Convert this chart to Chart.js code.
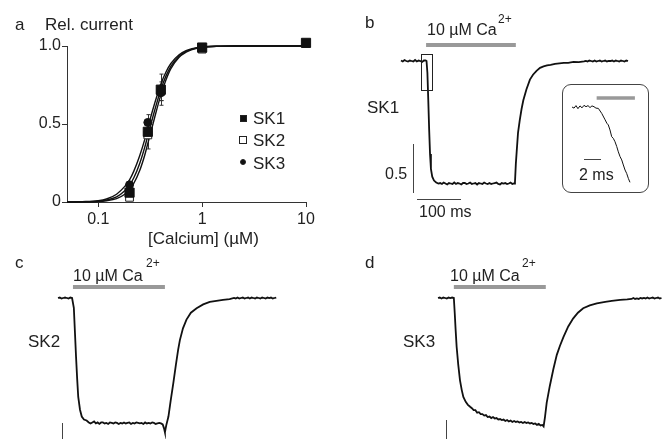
<!DOCTYPE html>
<html>
<head>
<meta charset="utf-8">
<script src="https://cdn.jsdelivr.net/npm/chart.js@4.4.0/dist/chart.umd.min.js"></script>
<style>
body { margin: 0; background: #fff; }
#fig { position: relative; width: 663px; height: 439px; overflow: hidden; font-family: "Liberation Sans", Arial, sans-serif; color: #222; }
#fig canvas { position: absolute; }
.t { position: absolute; white-space: nowrap; font-size: 17px; line-height: 17px; }
.mk { position: absolute; box-sizing: border-box; }
#insetBox { position: absolute; left: 562px; top: 84px; width: 87px; height: 109px; box-sizing: border-box; border: 1px solid #444; border-radius: 9px; }
</style>
</head>
<body>
<div id="fig">
  <canvas id="chartA" width="330" height="230" style="left:0;top:0"></canvas>
  <canvas id="chartB" width="333" height="230" style="left:330px;top:0"></canvas>
  <div id="insetBox"></div>
  <canvas id="chartInset" width="87" height="109" style="left:562px;top:84px"></canvas>
  <canvas id="chartC" width="330" height="199" style="left:0;top:240px"></canvas>
  <canvas id="chartD" width="333" height="199" style="left:330px;top:240px"></canvas>
</div>
<script>
// ---- panel a: concentration-response ----
var concSK1 = [0.2, 0.3, 0.4, 1, 10]
var relSK1 = [0.06, 0.45, 0.72, 0.99, 1.02]
var errSK1 = [0.01, 0.03, 0.1, 0.01, 0.01]
var concSK2 = [0.2, 0.3, 0.4, 1]
var relSK2 = [0.03, 0.43, 0.71, 0.98]
var errSK2 = [0.02, 0.09, 0.06, 0.01]
var concSK3 = [0.2, 0.3, 0.4, 1]
var relSK3 = [0.11, 0.51, 0.70, 0.99]
var errSK3 = [0.02, 0.05, 0.05, 0.01]

var fitConc = [0.05, 0.07, 0.1, 0.12, 0.15, 0.18, 0.2, 0.22, 0.25, 0.28, 0.3, 0.32, 0.35, 0.4, 0.45, 0.5, 0.6, 0.7, 0.8, 1, 1.5, 2, 5, 10]
var fitSK1 = [0, 0.001, 0.005, 0.012, 0.033, 0.072, 0.108, 0.155, 0.245, 0.35, 0.425, 0.495, 0.59, 0.72, 0.81, 0.87, 0.935, 0.965, 0.98, 0.993, 0.999, 1, 1, 1]
var fitSK2 = [0, 0.001, 0.003, 0.008, 0.022, 0.05, 0.08, 0.12, 0.2, 0.3, 0.375, 0.445, 0.545, 0.685, 0.785, 0.855, 0.928, 0.96, 0.977, 0.992, 0.999, 1, 1, 1]
var fitSK3 = [0, 0.002, 0.008, 0.019, 0.05, 0.1, 0.142, 0.198, 0.295, 0.4, 0.475, 0.545, 0.635, 0.755, 0.835, 0.888, 0.944, 0.97, 0.983, 0.994, 0.999, 1, 1, 1]
var xTicksA = [0.1, 1, 10]
var yTicksA = [0, 0.5, 1]

// ---- panel b: SK1 trace (ms, nA) ----
var timeB = [0, 4, 8, 12, 16, 20, 24, 28, 32, 36, 40, 44, 48, 52, 56,
  58, 60, 62, 64, 66, 68, 71, 75, 80, 85,
  89, 93, 97, 101, 105, 109, 113, 117, 121, 125, 129, 133, 137, 141, 145, 149, 153, 157, 161, 165, 169,
  173, 177, 181, 185, 189, 193, 197, 201, 205, 209, 213, 217, 221, 225, 229, 233, 237, 241, 245, 249, 253,
  257,
  259, 261, 263, 266, 270, 274, 278, 285, 293, 300, 308, 316, 324, 332, 340, 350, 360, 370, 380, 392, 404, 416,
  420, 424, 428, 432, 436, 440, 444, 448, 452, 456, 460, 464, 468, 472, 476, 480, 484, 488, 492, 496, 500, 504, 508, 512, 516]
var currB = [0.005, -0.005, 0.01, 0, -0.005, 0.005, 0, -0.005, 0.01, -0.005, 0.005, 0, -0.01, 0.005, 0.005,
  0, -0.12, -0.40, -0.70, -0.95, -1.10, -1.18, -1.22, -1.24, -1.25,
  -1.245, -1.255, -1.24, -1.25, -1.26, -1.245, -1.25, -1.255, -1.24, -1.255, -1.245, -1.25, -1.26, -1.245, -1.245, -1.255, -1.25, -1.24, -1.255, -1.25, -1.245,
  -1.26, -1.245, -1.25, -1.255, -1.24, -1.25, -1.255, -1.245, -1.255, -1.25, -1.245, -1.24, -1.255, -1.26, -1.245, -1.25, -1.245, -1.255, -1.25, -1.24, -1.255,
  -1.25,
  -1.24, -1.05, -0.92, -0.73, -0.60, -0.49, -0.40, -0.29, -0.19, -0.14, -0.10, -0.07, -0.055, -0.045, -0.04, -0.03, -0.025, -0.02, -0.02, -0.01, -0.012, -0.005,
  0, -0.005, 0.005, 0, -0.005, 0.005, -0.005, 0, 0.005, -0.005, 0, 0.005, -0.005, 0, 0, 0.005, -0.005, 0.005, 0, -0.005, 0.005, 0, -0.005, 0.005, 0]
var caB = [57, 261]

// inset of panel b (ms, nA)
var timeInset = [0, 0.24, 0.47, 0.7, 0.94, 1.18, 1.41, 1.65, 1.88, 2.12, 2.35, 2.59, 2.82, 3.1, 3.5, 3.9, 4.1, 4.27, 4.47, 4.67, 4.86, 5.06, 5.26, 5.45, 5.65, 5.85, 6.04, 6.24, 6.43, 6.63, 6.82]
var currInset = [0, -0.004, 0.005, -0.006, 0.004, -0.003, 0.006, 0.001, 0.005, -0.002, 0.004, 0.001, -0.004, -0.005, -0.023, -0.046, -0.058, -0.064, -0.082, -0.106, -0.112, -0.124, -0.141, -0.16, -0.177, -0.189, -0.207, -0.225, -0.237, -0.255, -0.269]
var caInset = [2.9, 7.4]

// ---- panel c: SK2 trace ----
var timeC = [0, 4, 8, 12, 16, 20, 24, 28, 32,
  34, 36, 38.5, 41, 43.5, 46, 50, 54, 59, 65,
  70, 74, 78, 82, 86, 90, 94, 98, 102, 106, 110, 114, 118, 122, 126, 130, 134, 138, 142, 146, 150, 154,
  158, 162, 166, 170, 174, 178, 182, 186, 190, 194, 198, 202, 206, 210, 214, 218, 222, 226, 230, 234, 238,
  241, 243, 246, 251, 256, 262, 268, 273, 277, 284, 292, 302, 315, 330, 345, 360, 375, 390,
  400, 404, 408, 412, 416, 420, 424, 428, 432, 436, 440, 444, 448, 452, 456, 460, 464, 468, 472, 476, 480, 484, 488, 492, 496]
var currC = [0, 0.005, -0.005, 0, 0.005, 0, -0.005, 0.005, 0,
  0, -0.1, -0.35, -0.6, -0.82, -1.01, -1.14, -1.21, -1.24, -1.25,
  -1.27, -1.28, -1.27, -1.26, -1.28, -1.27, -1.285, -1.27, -1.27, -1.28, -1.275, -1.285, -1.27, -1.275, -1.28, -1.27, -1.275, -1.285, -1.275, -1.28, -1.27, -1.28,
  -1.275, -1.27, -1.285, -1.275, -1.28, -1.27, -1.275, -1.28, -1.275, -1.285, -1.27, -1.28, -1.275, -1.28, -1.27, -1.275, -1.285, -1.28, -1.275, -1.28, -1.29,
  -1.33, -1.37, -1.30, -1.21, -1.05, -0.87, -0.68, -0.53, -0.43, -0.31, -0.22, -0.15, -0.105, -0.065, -0.04, -0.03, -0.02, -0.012,
  0, -0.005, 0.005, -0.005, 0, 0.005, -0.005, 0, 0.005, -0.005, 0.005, 0, -0.005, 0.005, 0, -0.005, 0.005, 0, -0.005, 0.005, 0, 0.005, -0.005, 0, 0.005]
var caC = [34, 243]

// ---- panel d: SK3 trace ----
var timeD = [0, 4, 8, 12, 16, 20, 24, 28, 32, 36,
  38, 40, 42.4, 46, 50, 54, 57.6, 63, 68, 73,
  77, 81, 85, 89, 93, 97, 101, 105, 109, 113, 117, 121, 125, 129, 133, 137, 141, 145, 149, 153, 157,
  161, 165, 169, 173, 177, 181, 185, 189, 193, 197, 201, 205, 209, 213, 217, 221, 225, 229, 233, 237,
  240,
  243, 247, 254, 262, 270, 277, 285, 296, 307, 318, 330, 345, 361, 380, 395, 414, 430,
  440, 444, 448, 452, 456, 460, 464, 468, 472, 476, 480, 484, 488, 492, 496, 500, 504, 508]
var currD = [0, 0.005, -0.005, 0.005, 0, -0.005, 0.005, 0, 0.005, 0,
  -0.15, -0.32, -0.5, -0.68, -0.84, -0.94, -1.01, -1.06, -1.09, -1.11,
  -1.125, -1.145, -1.145, -1.17, -1.165, -1.185, -1.185, -1.2, -1.195, -1.215, -1.21, -1.225, -1.215, -1.23, -1.225, -1.24, -1.235, -1.245, -1.24, -1.255, -1.245,
  -1.26, -1.25, -1.265, -1.255, -1.265, -1.26, -1.27, -1.265, -1.275, -1.265, -1.275, -1.27, -1.28, -1.275, -1.285, -1.28, -1.295, -1.285, -1.3, -1.295,
  -1.31,
  -1.22, -1.07, -0.90, -0.73, -0.58, -0.49, -0.40, -0.29, -0.21, -0.15, -0.105, -0.075, -0.055, -0.04, -0.03, -0.02, -0.015,
  -0.01, 0, -0.01, -0.005, -0.01, 0, -0.005, 0, -0.005, 0.005, -0.005, 0, 0.005, -0.005, 0, 0.005, -0.005, 0]
var caD = [36, 245]

Chart.defaults.font.family = "'Liberation Sans', Arial, sans-serif"
Chart.defaults.color = '#222'

function pts(xs, ys) {
  return xs.map((x, i) => ({ x: x, y: ys[i] }))
}

// error bars for panel a, drawn under the markers
var errPlugin = {
  id: 'errbars',
  beforeDatasetsDraw(chart) {
    var ctx = chart.ctx, sx = chart.scales.x, sy = chart.scales.y
    var sets = [[concSK1, relSK1, errSK1], [concSK2, relSK2, errSK2], [concSK3, relSK3, errSK3]]
    ctx.save()
    ctx.strokeStyle = '#333'
    ctx.lineWidth = 1
    sets.forEach(s => {
      s[0].forEach((c, i) => {
        var x = Math.round(sx.getPixelForValue(c)) + 0.5
        var y1 = sy.getPixelForValue(s[1][i] - s[2][i]), y2 = sy.getPixelForValue(s[1][i] + s[2][i])
        ctx.beginPath()
        ctx.moveTo(x, y1); ctx.lineTo(x, y2)
        ctx.moveTo(x - 2, y1); ctx.lineTo(x + 2, y1)
        ctx.moveTo(x - 2, y2); ctx.lineTo(x + 2, y2)
        ctx.stroke()
      })
    })
    ctx.restore()
  }
}

new Chart(document.getElementById('chartA'), {
  type: 'scatter',
  data: {
    datasets: [
      { data: pts(fitConc, fitSK1), showLine: true, pointRadius: 0, borderColor: '#111', borderWidth: 1.4, cubicInterpolationMode: 'monotone', order: 10, clip: false },
      { data: pts(fitConc, fitSK2), showLine: true, pointRadius: 0, borderColor: '#111', borderWidth: 1.4, cubicInterpolationMode: 'monotone', order: 11, clip: false },
      { data: pts(fitConc, fitSK3), showLine: true, pointRadius: 0, borderColor: '#111', borderWidth: 1.4, cubicInterpolationMode: 'monotone', order: 12, clip: false },
      { label: 'SK2', data: pts(concSK2, relSK2), pointStyle: 'rect', pointRadius: 5.5, backgroundColor: '#fff', borderColor: '#222', borderWidth: 1, order: 3, clip: false },
      { label: 'SK1', data: pts(concSK1, relSK1), pointStyle: 'rect', pointRadius: 6.5, backgroundColor: '#111', borderColor: '#111', borderWidth: 1, order: 2, clip: false },
      { label: 'SK3', data: pts(concSK3, relSK3), pointStyle: 'circle', pointRadius: 4, backgroundColor: '#111', borderColor: '#111', borderWidth: 1, order: 1, clip: false }
    ]
  },
  options: {
    responsive: false,
    animation: false,
    layout: { padding: { top: 46, right: 24, left: 0, bottom: 0 } },
    plugins: { legend: { display: false }, tooltip: { enabled: false } },
    scales: {
      x: {
        type: 'logarithmic', min: 0.05, max: 10,
        afterBuildTicks: s => { s.ticks = xTicksA.map(v => ({ value: v })) },
        afterFit: s => { s.height = 28 },
        ticks: { font: { size: 16 }, color: '#222', padding: 3, maxRotation: 0, autoSkip: false, callback: v => String(v) },
        grid: { drawOnChartArea: false, drawTicks: true, tickLength: 5, color: '#333' },
        border: { display: true, color: '#333', width: 1 }
      },
      y: {
        min: 0, max: 1,
        afterBuildTicks: s => { s.ticks = yTicksA.map(v => ({ value: v })) },
        afterFit: s => { s.width = 67 },
        ticks: { font: { size: 16 }, color: '#222', padding: 1, callback: v => v === 1 ? '1.0' : String(v) },
        grid: { drawOnChartArea: false, drawTicks: true, tickLength: 5, color: '#333' },
        border: { display: true, color: '#333', width: 1 }
      }
    }
  },
  plugins: [errPlugin]
})

// linear mapping from a page-pixel anchor to an axis range for a canvas
function axisRange(p0, v0, ppu, start, size, flip) {
  if (!flip) {
    var min = v0 - (p0 - start) / ppu
    return { min: min, max: min + size / ppu }
  }
  var max = v0 + (p0 - start) / ppu
  return { min: max - size / ppu, max: max }
}

function traceChart(id, rect, xs, ys, map, lw, extra) {
  var xr = axisRange(map.x0, 0, map.px, rect.left, rect.width, false)
  var yr = axisRange(map.y0, 0, map.py, rect.top, rect.height, true)
  return new Chart(document.getElementById(id), {
    type: 'scatter',
    data: { datasets: [{ data: pts(xs, ys), showLine: true, pointRadius: 0, borderColor: '#111', borderWidth: lw, tension: 0, clip: false }] },
    options: {
      responsive: false,
      animation: false,
      layout: { padding: 0 },
      plugins: { legend: { display: false }, tooltip: { enabled: false } },
      scales: {
        x: { type: 'linear', display: false, min: xr.min, max: xr.max },
        y: { type: 'linear', display: false, min: yr.min, max: yr.max }
      }
    },
    plugins: [{
      id: 'extras',
      afterDatasetsDraw(chart) {
        var ctx = chart.ctx
        ctx.save()
        extra(ctx, chart.scales.x, chart.scales.y, rect)
        ctx.restore()
      }
    }]
  })
}

function hline(ctx, x1, x2, y, color, w) {
  ctx.strokeStyle = color; ctx.lineWidth = w
  ctx.beginPath(); ctx.moveTo(x1, y); ctx.lineTo(x2, y); ctx.stroke()
}
function vline(ctx, x, y1, y2, color, w) {
  ctx.strokeStyle = color; ctx.lineWidth = w
  ctx.beginPath(); ctx.moveTo(x, y1); ctx.lineTo(x, y2); ctx.stroke()
}

var grey = '#999'

// panel b
traceChart('chartB', { left: 330, top: 0, width: 333, height: 230 }, timeB, currB,
  { x0: 401, px: 0.44, y0: 61, py: 98 }, 1.8,
  (ctx, sx, sy, r) => {
    hline(ctx, sx.getPixelForValue(caB[0]), sx.getPixelForValue(caB[1]), 45 - r.top, grey, 4)
    // box marking the inset window
    ctx.strokeStyle = '#222'; ctx.lineWidth = 1
    ctx.strokeRect(421.5 - r.left, 54.5 - r.top, 11, 36)
    // scale bars: 0.5 and 100 ms
    var h = Math.abs(sy.getPixelForValue(0) - sy.getPixelForValue(0.5))
    var w = Math.abs(sx.getPixelForValue(100) - sx.getPixelForValue(0))
    vline(ctx, 413.5 - r.left, 144 - r.top, 144 - r.top + h, '#444', 1)
    hline(ctx, 417 - r.left, 417 - r.left + w, 199.5 - r.top, '#444', 1)
  })

// inset
traceChart('chartInset', { left: 562, top: 84, width: 87, height: 109 }, timeInset, currInset,
  { x0: 572, px: 8.5, y0: 107, py: 280 }, 1,
  (ctx, sx, sy, r) => {
    hline(ctx, sx.getPixelForValue(caInset[0]), sx.getPixelForValue(caInset[1]), 98 - r.top, grey, 3.5)
    var w = Math.abs(sx.getPixelForValue(2) - sx.getPixelForValue(0))
    hline(ctx, 584 - r.left, 584 - r.left + w, 159.5 - r.top, '#444', 1)
  })

// panel c
traceChart('chartC', { left: 0, top: 240, width: 330, height: 199 }, timeC, currC,
  { x0: 58, px: 0.44, y0: 298, py: 98 }, 1.8,
  (ctx, sx, sy, r) => {
    hline(ctx, sx.getPixelForValue(caC[0]), sx.getPixelForValue(caC[1]), 287 - r.top, grey, 4)
    vline(ctx, 62.5 - r.left, 423 - r.top, 439 - r.top, '#444', 1)
  })

// panel d
traceChart('chartD', { left: 330, top: 240, width: 333, height: 199 }, timeD, currD,
  { x0: 438, px: 0.44, y0: 298, py: 98 }, 1.8,
  (ctx, sx, sy, r) => {
    hline(ctx, sx.getPixelForValue(caD[0]), sx.getPixelForValue(caD[1]), 287 - r.top, grey, 4)
    vline(ctx, 446.5 - r.left, 420 - r.top, 439 - r.top, '#444', 1)
  })

// text labels, placed by left edge and baseline
var fig = document.getElementById('fig')
function label(text, left, baseline, size) {
  size = size || 17
  var d = document.createElement('div')
  d.className = 't'
  d.textContent = text
  d.style.fontSize = size + 'px'
  d.style.lineHeight = size + 'px'
  d.style.left = left + 'px'
  d.style.top = (baseline - 0.847 * size) + 'px'
  fig.appendChild(d)
}
function marker(cx, cy, size, fill, round) {
  var d = document.createElement('div')
  d.className = 'mk'
  d.style.left = (cx - size / 2) + 'px'
  d.style.top = (cy - size / 2) + 'px'
  d.style.width = size + 'px'
  d.style.height = size + 'px'
  d.style.background = fill
  d.style.border = '1px solid #222'
  if (round) d.style.borderRadius = '50%'
  fig.appendChild(d)
}

label('a', 15, 30)
label('Rel. current', 45, 30)
label('[Calcium] (\u00b5M)', 148, 244)
marker(243, 118, 7, '#111')
marker(243, 140, 8, '#fff')
marker(243, 162, 6, '#111', true)
label('SK1', 253, 124)
label('SK2', 253, 146)
label('SK3', 253, 169)

label('b', 365, 28)
label('10 \u00b5M Ca', 427, 36, 16)
label('2+', 498, 23, 12)
label('SK1', 367, 113)
label('0.5', 385, 180, 16)
label('100 ms', 419, 218, 16)
label('2 ms', 579, 181, 16)

label('c', 15, 268)
label('10 \u00b5M Ca', 73, 282, 16)
label('2+', 146, 267, 12)
label('SK2', 28, 347)

label('d', 365, 268)
label('10 \u00b5M Ca', 450, 282, 16)
label('2+', 522, 267, 12)
label('SK3', 403, 347)
</script>
</body>
</html>
